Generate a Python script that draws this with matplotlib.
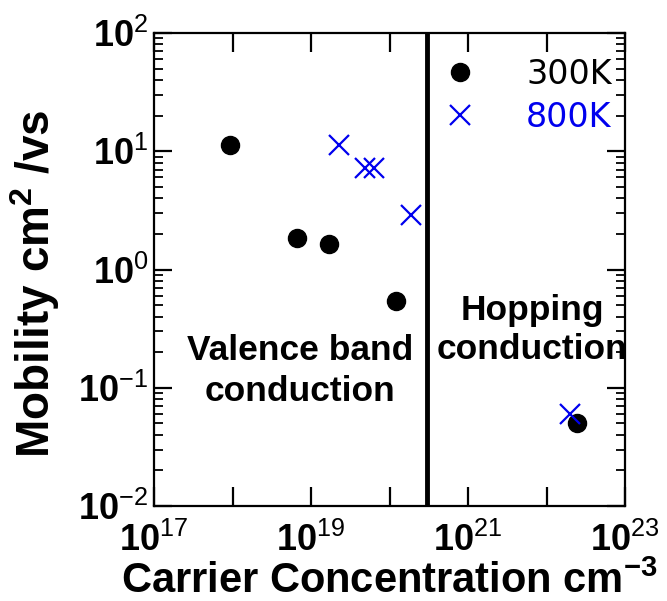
import matplotlib
matplotlib.use("Agg")
import matplotlib.pyplot as plt
import numpy as np
from matplotlib.ticker import FuncFormatter, LogLocator

plt.rcParams['font.family'] = ['Liberation Sans', 'DejaVu Sans']
plt.rcParams['mathtext.fontset'] = 'custom'
plt.rcParams['mathtext.rm'] = 'Liberation Sans'
plt.rcParams['mathtext.bf'] = 'Liberation Sans:bold'

# measured points
conc_300 = [9.2e17, 6.7e18, 1.72e19, 1.22e20, 2.45e22]
mob_300 = [11.4, 1.84, 1.63, 0.545, 0.050]
conc_800 = [2.3e19, 4.9e19, 6.3e19, 1.9e20, 2.0e22]
mob_800 = [11.4, 7.2, 7.2, 2.9, 0.060]

boundary = 3.0e20  # valence band / hopping transition
x_lim = (1e17, 1e23)
y_lim = (1e-2, 1e2)
x_ticks = [1e17, 1e19, 1e21, 1e23]
y_ticks = [1e-2, 1e-1, 1e0, 1e1, 1e2]


def pow_label(val, pos):
    e = int(round(np.log10(val)))
    return r"$\mathbf{10}^{%d}$" % e


fig = plt.figure(figsize=(6.67, 6.01), dpi=100)
ax = fig.add_axes([154 / 667, 1 - 506 / 601, 471 / 667, 473 / 601])
ax.set_xscale('log')
ax.set_yscale('log')
ax.set_xlim(*x_lim)
ax.set_ylim(*y_lim)

ax.plot(conc_300, mob_300, 'o', color='black', markersize=13, label='300K')
ax.plot(conc_800, mob_800, 'x', color='#0000ee', markersize=14, markeredgewidth=1.6,
        label='800K')
ax.axvline(boundary, color='black', linewidth=3.5)

for s in ax.spines.values():
    s.set_linewidth(1.6)

ax.set_xticks(x_ticks)
ax.xaxis.set_major_formatter(FuncFormatter(pow_label))
ax.xaxis.set_minor_locator(LogLocator(base=10, subs=[1.0], numticks=20))
ax.xaxis.set_minor_formatter(FuncFormatter(lambda v, p: ''))
ax.set_yticks(y_ticks)
ax.yaxis.set_major_formatter(FuncFormatter(pow_label))
ax.yaxis.set_minor_locator(LogLocator(base=10, subs=np.arange(2, 10), numticks=20))

ax.tick_params(which='major', direction='in', top=True, right=True, labelsize=26,
               width=1.6)
ax.tick_params(axis='x', which='major', length=14, pad=12)
ax.tick_params(axis='y', which='major', length=13, pad=4)
ax.tick_params(axis='x', which='minor', direction='in', top=True, length=14, width=1.6)
ax.tick_params(axis='y', which='minor', direction='in', right=True, length=6.5, width=1.3)

ax.set_xlabel(r"Carrier Concentration cm$^{\mathbf{-3}}$", fontsize=30, fontweight='bold',
              labelpad=2)
ax.set_ylabel(r"Mobility cm$^{\mathbf{2}}$ /vs", fontsize=33, fontweight='bold')
ax.yaxis.set_label_coords(-0.195, 0.469)

ax.text(0.31, 0.285, "Valence band\nconduction", transform=ax.transAxes, fontsize=25.5,
        fontweight='bold', ha='center', va='center', linespacing=1.3)
ax.text(0.803, 0.372, "Hopping\nconduction", transform=ax.transAxes, fontsize=25.5,
        fontweight='bold', ha='center', va='center', linespacing=1.2)

leg = ax.legend(loc='upper right', bbox_to_anchor=(0.972, 0.947), frameon=False,
                fontsize=24, handlelength=0.8, handletextpad=1.6, labelspacing=0.3,
                borderpad=0, borderaxespad=0, labelcolor=['black', '#0000ee'])
for t in leg.get_texts():
    t.set_family('DejaVu Sans')

fig.savefig('out.png', dpi=100)
